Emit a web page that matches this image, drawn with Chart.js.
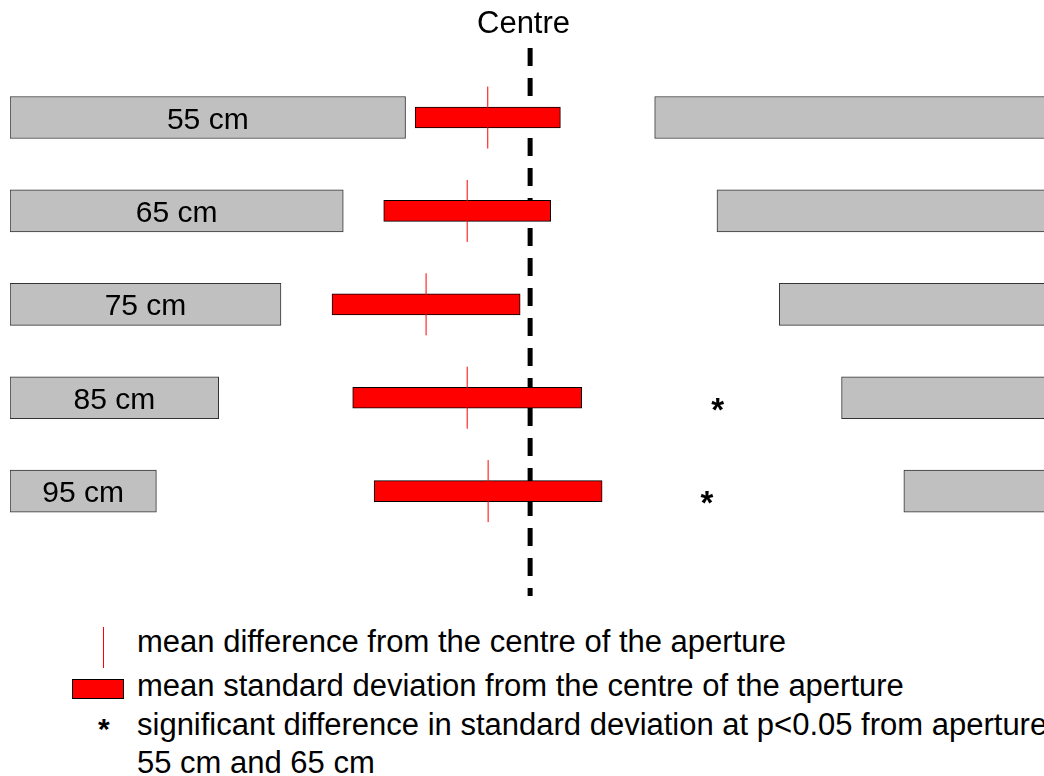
<!DOCTYPE html>
<html>
<head>
<meta charset="utf-8">
<script src="https://cdn.jsdelivr.net/npm/chart.js@4/dist/chart.umd.min.js"></script>
<style>
  html, body { margin: 0; padding: 0; background: #fff; overflow: hidden; }
  body { width: 1044px; height: 776px; position: relative; font-family: "Liberation Sans", Arial, sans-serif; }
  #wrap { position: absolute; left: 0; top: 0; width: 1044px; height: 610px; }
  .txt { position: absolute; font-size: 31px; line-height: 30px; white-space: nowrap; color: #000; }
  .star { font-weight: bold; font-size: 30px; }
  .key-line { position: absolute; left: 103px; top: 627px; width: 1px; height: 41px; background: #ff0000; }
  .key-box { position: absolute; left: 72px; top: 679px; width: 52px; height: 20px; background: #ff0000; border: 1px solid #000; box-sizing: border-box; }
</style>
</head>
<body>
<div id="wrap"><canvas id="chart"></canvas></div>

<div class="txt" style="left:477px; top:8px;">Centre</div>

<div class="key-line"></div>
<div class="txt" style="left:137px; top:627px;">mean difference from the centre of the aperture</div>
<div class="key-box"></div>
<div class="txt" style="left:137px; top:671px;">mean standard deviation from the centre of the aperture</div>
<div class="txt star" style="left:98px; top:714px;">*</div>
<div class="txt" style="left:137px; top:710px;">significant difference in standard deviation at p&lt;0.05 from aperture</div>
<div class="txt" style="left:137px; top:748px;">55 cm and 65 cm</div>

<script>
const log = console.log;

// aperture widths (rows, top to bottom)
const apertures = [55, 65, 75, 85, 95];
const rowLabels = ['55 cm', '65 cm', '75 cm', '85 cm', '95 cm'];
// half of the free gap, cm from the centre to the edge of each door panel
const halfGap = [10, 15, 20, 25, 30];
// mean difference from the centre (cm, negative = left)
const meanDiff = [-3.4, -5.05, -8.35, -5.05, -3.37];
// mean standard deviation (cm)
const meanSD = [5.83, 6.7, 7.55, 9.19, 9.15];
// rows with a significant difference, x where the asterisk sits
const sigX = [null, null, null, 15.05, 14.2];

const xMin = -41.75;
const xMax = 41.25;
const yTop = 46.7;
const yBottom = 106.66;

const leftPanels = apertures.map((a, i) => ({ x: [xMin, -halfGap[i]], y: a }));
const rightPanels = apertures.map((a, i) => ({ x: [halfGap[i], xMax + 10], y: a }));
const sdBars = apertures.map((a, i) => ({ x: [meanDiff[i] - meanSD[i], meanDiff[i] + meanSD[i]], y: a }));
const meanMarks = apertures.map((a, i) => ({ x: meanDiff[i], y: a }));
const stars = apertures
  .map((a, i) => ({ x: sigX[i], y: a }))
  .filter((p) => p.x !== null);

const labelsPlugin = {
  id: 'rowLabels',
  afterDatasetsDraw(chart) {
    const ctx = chart.ctx;
    ctx.save();
    ctx.fillStyle = '#000';
    // panel labels
    ctx.font = '30px "Liberation Sans", Arial, sans-serif';
    ctx.textAlign = 'center';
    ctx.textBaseline = 'alphabetic';
    chart.getDatasetMeta(1).data.forEach((el, i) => {
      const cx = (el.x + el.base) / 2;
      ctx.fillText(rowLabels[i], cx, el.y + 11);
    });
    // significance asterisks
    ctx.font = 'bold 33px "Liberation Sans", Arial, sans-serif';
    const m = ctx.measureText('*');
    const shift = (m.actualBoundingBoxDescent - m.actualBoundingBoxAscent) / 2;
    chart.getDatasetMeta(5).data.forEach((el) => {
      ctx.fillText('*', el.x, el.y + 6.5 - shift);
    });
    ctx.restore();
  },
};

const chart = new Chart(document.getElementById('chart').getContext('2d'), {
  type: 'bar',
  data: {
    datasets: [
      {
        type: 'line',
        label: 'Centre',
        data: [
          { x: 0, y: 47.56 },
          { x: 0, y: 106.23 },
        ],
        borderColor: '#000',
        borderWidth: 5,
        borderDash: [18, 12],
        pointRadius: 0,
        order: 10,
      },
      {
        label: 'left panel',
        indexAxis: 'y',
        data: leftPanels,
        backgroundColor: '#c0c0c0',
        borderColor: '#333',
        borderWidth: 1,
        borderSkipped: false,
        barThickness: 42,
        grouped: false,
        order: 5,
      },
      {
        label: 'right panel',
        indexAxis: 'y',
        data: rightPanels,
        backgroundColor: '#c0c0c0',
        borderColor: '#333',
        borderWidth: 1,
        borderSkipped: false,
        barThickness: 42,
        grouped: false,
        order: 5,
      },
      {
        label: 'mean standard deviation',
        indexAxis: 'y',
        data: sdBars,
        backgroundColor: '#ff0000',
        borderColor: '#000',
        borderWidth: 1,
        borderSkipped: false,
        barThickness: 21,
        grouped: false,
        order: 3,
      },
      {
        type: 'scatter',
        label: 'mean difference',
        data: meanMarks,
        pointStyle: 'line',
        rotation: 90,
        pointRadius: 31,
        borderColor: '#ff0000',
        borderWidth: 1,
        order: 1,
      },
      {
        type: 'scatter',
        label: 'significant',
        data: stars,
        pointRadius: 0,
        order: 0,
      },
    ],
  },
  options: {
    responsive: true,
    maintainAspectRatio: false,
    animation: false,
    events: [],
    layout: {
      autoPadding: false,
      padding: { top: 40, bottom: 10, left: 10, right: 0 },
    },
    scales: {
      x: { type: 'linear', min: xMin, max: xMax, offset: false, display: false },
      y: { type: 'linear', min: yTop, max: yBottom, reverse: true, offset: false, display: false },
    },
    plugins: {
      legend: { display: false },
      tooltip: { enabled: false },
    },
  },
  plugins: [labelsPlugin],
});
</script>
</body>
</html>
